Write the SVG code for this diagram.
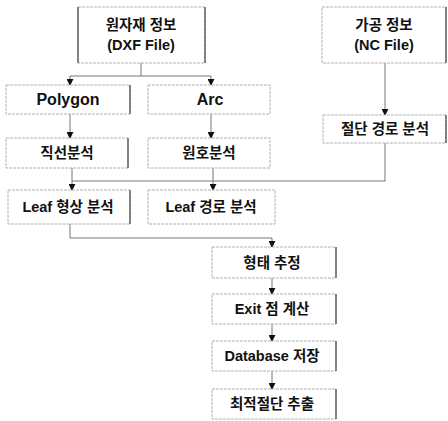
<svg xmlns="http://www.w3.org/2000/svg" width="448" height="421" viewBox="0 0 448 421">
<defs>
<style>
.box{fill:#fff;stroke:#b0b0b0;stroke-width:1;stroke-dasharray:3 1}
.edge{stroke:#444;stroke-width:1.2}
.t{font-family:"Liberation Sans","Noto Sans CJK KR",sans-serif;font-size:14.5px;font-weight:bold;fill:#111;text-anchor:middle}
.big{font-size:16px}
.c{fill:none;stroke:#777;stroke-width:1}
</style>
<marker id="ah" viewBox="0 0 8 8" refX="7" refY="4" markerWidth="7" markerHeight="7" orient="auto" markerUnits="userSpaceOnUse">
<path d="M0,0 L8,4 L0,8 z" fill="#111"/>
</marker>
</defs>
<rect width="448" height="421" fill="#fff"/>
<g id="connectors">
<path class="c" d="M141,63 V76 H70 V85" marker-end="url(#ah)"/>
<path class="c" d="M141,76 H211 V85" marker-end="url(#ah)"/>
<path class="c" d="M385,63 V115" marker-end="url(#ah)"/>
<path class="c" d="M70,114 V138" marker-end="url(#ah)"/>
<path class="c" d="M211,114 V138" marker-end="url(#ah)"/>
<path class="c" d="M72,168 V190" marker-end="url(#ah)"/>
<path class="c" d="M213,168 V190" marker-end="url(#ah)"/>
<path class="c" d="M385,143 V181 H72"/>
<path class="c" d="M70,224 V238 H272 V247" marker-end="url(#ah)"/>
<path class="c" d="M272,278 V294" marker-end="url(#ah)"/>
<path class="c" d="M272,324 V341" marker-end="url(#ah)"/>
<path class="c" d="M272,371 V389" marker-end="url(#ah)"/>
</g>
<g id="dxf">
<rect class="box" x="78" y="7" width="127" height="56"/>
<line class="edge" x1="78" y1="7" x2="78" y2="63"/><line class="edge" x1="205" y1="7" x2="205" y2="63"/>
<text class="t" x="141" y="30">원자재 정보</text>
<text class="t" x="141" y="50">(DXF File)</text>
</g>
<g id="nc">
<rect class="box" x="322" y="7" width="124" height="56"/>
<line class="edge" x1="446" y1="7" x2="446" y2="63"/>
<text class="t" x="384" y="30">가공 정보</text>
<text class="t" x="384" y="50">(NC File)</text>
</g>
<g id="polygon">
<rect class="box" x="6" y="85" width="124" height="29"/>
<line class="edge" x1="130" y1="85" x2="130" y2="114"/>
<text class="t big" x="68" y="105">Polygon</text>
</g>
<g id="arc">
<rect class="box" x="148" y="85" width="122" height="29"/>
<text class="t big" x="210" y="105">Arc</text>
</g>
<g id="path-analysis">
<rect class="box" x="323" y="115" width="123" height="28"/>
<line class="edge" x1="446" y1="115" x2="446" y2="143"/>
<text class="t" x="385" y="134">절단 경로 분석</text>
</g>
<g id="line-analysis">
<rect class="box" x="6" y="138" width="122" height="30"/>
<line class="edge" x1="128" y1="138" x2="128" y2="168"/>
<text class="t" x="67" y="158">직선분석</text>
</g>
<g id="arc-analysis">
<rect class="box" x="148" y="138" width="122" height="30"/>
<text class="t" x="209" y="158">원호분석</text>
</g>
<g id="leaf-shape">
<rect class="box" x="8" y="190" width="122" height="34"/>
<line class="edge" x1="130" y1="190" x2="130" y2="224"/>
<text class="t" x="68" y="212">Leaf 형상 분석</text>
</g>
<g id="leaf-path">
<rect class="box" x="148" y="190" width="127" height="34"/>
<text class="t" x="211" y="212">Leaf 경로 분석</text>
</g>
<g id="shape-estimate">
<rect class="box" x="212" y="247" width="124" height="31"/>
<line class="edge" x1="336" y1="247" x2="336" y2="278"/>
<text class="t" x="272" y="268">형태 추정</text>
</g>
<g id="exit-calc">
<rect class="box" x="212" y="294" width="124" height="30"/>
<line class="edge" x1="336" y1="294" x2="336" y2="324"/>
<text class="t" x="272" y="314">Exit 점 계산</text>
</g>
<g id="database">
<rect class="box" x="212" y="341" width="124" height="30"/>
<line class="edge" x1="336" y1="341" x2="336" y2="371"/>
<text class="t" x="272" y="361">Database 저장</text>
</g>
<g id="optimal">
<rect class="box" x="212" y="389" width="124" height="30"/>
<line class="edge" x1="336" y1="389" x2="336" y2="419"/>
<text class="t" x="272" y="409">최적절단 추출</text>
</g>
</svg>
